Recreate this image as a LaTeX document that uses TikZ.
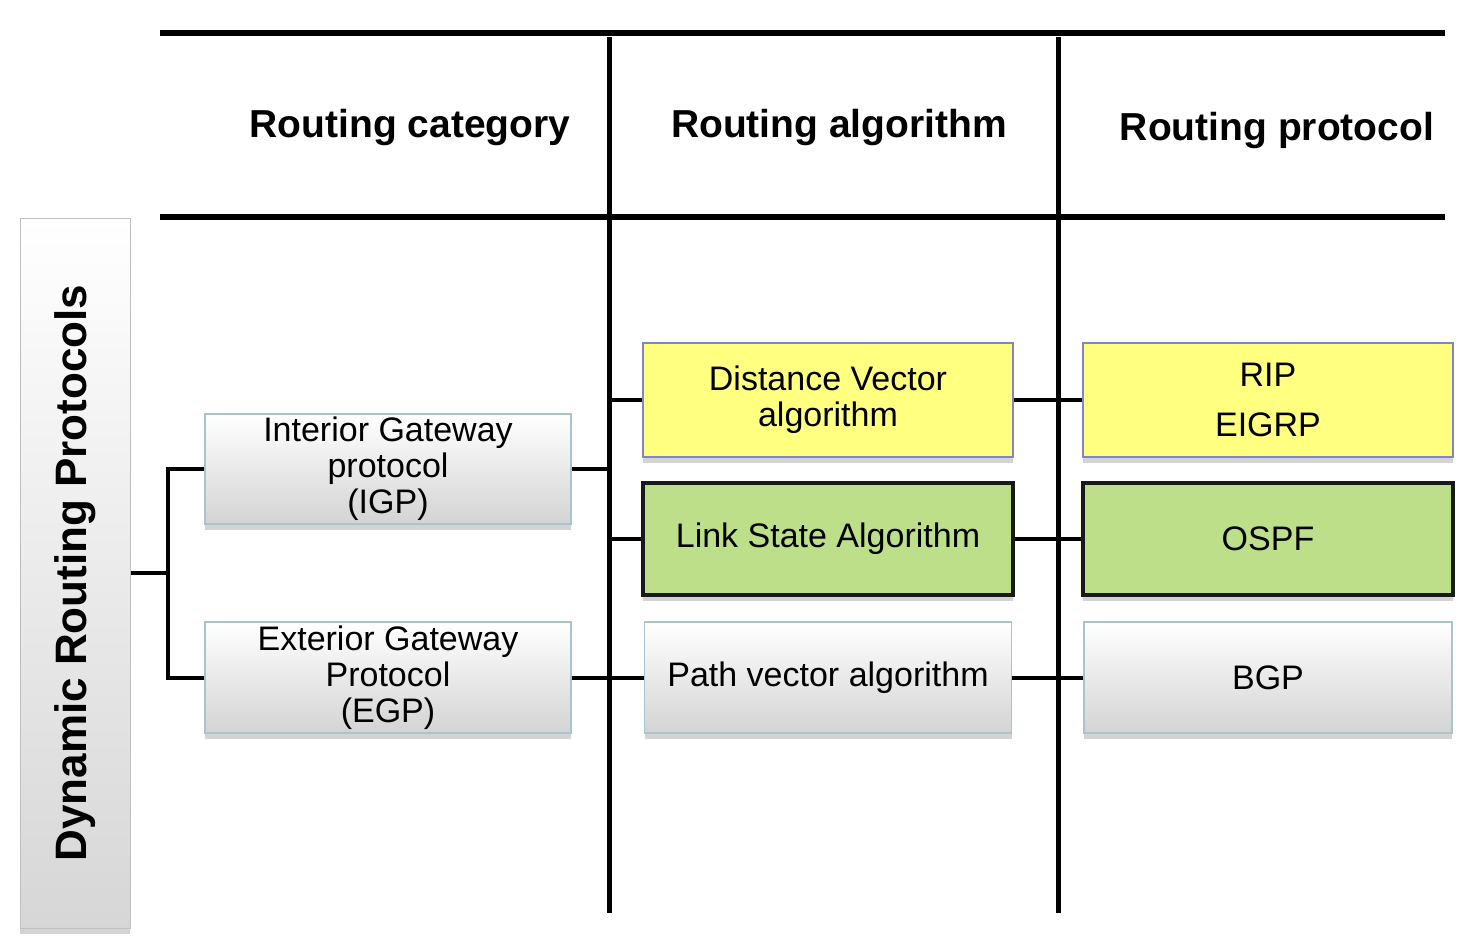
\documentclass[tikz,border=0pt]{standalone}
\usepackage{fontspec}
\setmainfont{Liberation Sans}
\usetikzlibrary{shadows}
\definecolor{dvyellow}{HTML}{FFFF80}
\definecolor{lsgreen}{HTML}{BDDF89}
\definecolor{dvborder}{HTML}{8484C4}
\definecolor{greyborder}{HTML}{A8C4CC}
\begin{document}
\begin{tikzpicture}[x=1pt,y=-1pt]

\tikzstyle{headstyle} = [font={\fontsize{39}{42}\selectfont\bfseries}]
\tikzstyle{boxstyle} = [align=center,font={\fontsize{34}{36}\selectfont},inner sep=0,drop shadow={shadow xshift=0pt,shadow yshift=-6pt,opacity=0.35}]
\tikzstyle{greybox} = [boxstyle,draw=greyborder,line width=1.5pt,top color=white,bottom color=black!17]
\tikzstyle{yellowbox} = [boxstyle,draw=dvborder,line width=2.5pt,fill=dvyellow]
\tikzstyle{greenbox} = [boxstyle,draw=black!90,line width=4pt,fill=lsgreen]
\tikzstyle{grid_line} = [draw=black,line width=6pt]
\tikzstyle{link_edge} = [draw=black,line width=4pt]

\useasboundingbox (0,0) rectangle (1478,940);

\draw [grid_line] (160,33) -- (1445,33);
\draw [grid_line] (160,217) -- (1445,217);
\coordinate (colA top) at (609,37);
\coordinate (colA bot) at (609,913);
\coordinate (colB top) at (1058,37);
\coordinate (colB bot) at (1058,913);
\draw [grid_line,line width=5pt] (colA top) -- (colA bot);
\draw [grid_line,line width=5pt] (colB top) -- (colB bot);

\node [headstyle] (h1) at (410,127) {Routing category};
\node [headstyle] (h2) at (839,127) {Routing algorithm};
\node [headstyle] (h3) at (1277,130) {Routing protocol};

\node [boxstyle,draw=black!25,line width=1pt,top color=white,bottom color=black!16,rotate=90,minimum width=710,minimum height=110,font={\fontsize{44}{46}\selectfont\bfseries}] (drp) at (75,573) {Dynamic Routing Protocols};

\node [greybox,minimum width=366,minimum height=110] (igp) at (388,469) {Interior Gateway\\protocol\\(IGP)};
\node [greybox,minimum width=366,minimum height=111] (egp) at (388,677.5) {Exterior Gateway\\Protocol\\(EGP)};

\node [yellowbox,minimum width=370,minimum height=114] (dv) at (828,400) {Distance Vector\\algorithm};
\node [greenbox,minimum width=370,minimum height=112] (ls) at (828,539) {Link State Algorithm};
\node [greybox,minimum width=367,minimum height=111] (pv) at (828,677.5) {Path vector algorithm};

\node [yellowbox,minimum width=370,minimum height=114] (rip) at (1268,400) {RIP\\[14pt]EIGRP};
\node [greenbox,minimum width=370,minimum height=112] (ospf) at (1268,539) {OSPF};
\node [greybox,minimum width=368,minimum height=111] (bgp) at (1268,677.5) {BGP};

\coordinate (fork) at (168,573);
\draw [link_edge] (drp.south) -- (fork);
\draw [link_edge] (igp.west) -| (fork) |- (egp.west);
\draw [link_edge] (igp.east) -- (igp.east -| colA top);
\draw [link_edge] (dv.west) -- (dv.west -| colA top);
\draw [link_edge] (ls.west) -- (ls.west -| colA top);
\draw [link_edge] (egp.east) -- (pv.west);
\draw [link_edge] (dv.east) -- (rip.west);
\draw [link_edge] (ls.east) -- (ospf.west);
\draw [link_edge] (pv.east) -- (bgp.west);
\end{tikzpicture}
\end{document}
